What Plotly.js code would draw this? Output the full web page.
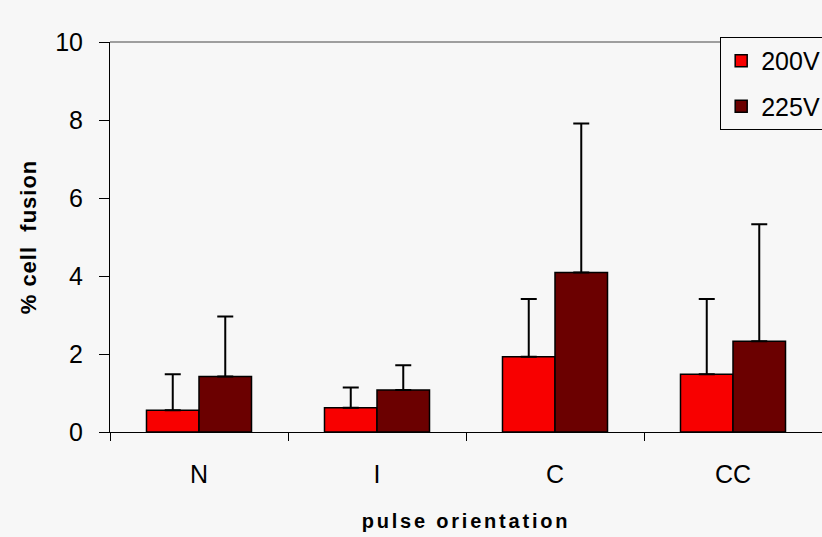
<!DOCTYPE html>
<html>
<head>
<meta charset="utf-8">
<script src="https://cdn.plot.ly/plotly-3.0.1.min.js"></script>
<style>
html,body{margin:0;padding:0;background:#f7f7f7;}
#chart{width:822px;height:537px;}
#chart .xtitle{letter-spacing:2.8px;}
#chart .ytitle{letter-spacing:1px;}
</style>
</head>
<body>
<div id="chart"></div>
<script>
const categories = ["N", "I", "C", "CC"];
const series200Name = "200V";
const series225Name = "225V";
const values200 = [0.56, 0.62, 1.93, 1.48];
const errors200 = [0.92, 0.52, 1.48, 1.93];
const values225 = [1.42, 1.08, 4.09, 2.33];
const errors225 = [1.54, 0.63, 3.82, 3.00];
const yTicks = [0, 2, 4, 6, 8, 10];

const errStyle = {thickness: 2, width: 8, color: "#000000"};

const traces = [
  {
    type: "bar", name: series200Name, x: categories, y: values200,
    legendgroup: "a",
    marker: {color: "#f80000", line: {color: "#000000", width: 1.5}},
    error_y: Object.assign({type: "data", array: errors200, symmetric: false, arrayminus: [0,0,0,0]}, errStyle)
  },
  {
    type: "bar", name: series225Name, x: categories, y: values225,
    legendgroup: "b",
    marker: {color: "#6b0000", line: {color: "#000000", width: 1.5}},
    error_y: Object.assign({type: "data", array: errors225, symmetric: false, arrayminus: [0,0,0,0]}, errStyle)
  }
];

const layout = {
  width: 822, height: 537,
  paper_bgcolor: "#f7f7f7", plot_bgcolor: "#f7f7f7",
  margin: {l: 110, r: 0, t: 42, b: 105, autoexpand: false},
  font: {family: "Liberation Sans, Arial, sans-serif", color: "#000000", size: 25},
  barmode: "group", bargap: 0.41, bargroupgap: 0,
  showlegend: true,
  legend: {
    x: 0.857, y: 1.013, xanchor: "left", yanchor: "top",
    bgcolor: "#f7f7f7", bordercolor: "#000000", borderwidth: 1,
    font: {size: 25}, traceorder: "grouped", tracegroupgap: 10
  },
  xaxis: {
    type: "category", automargin: false,
    showgrid: false, zeroline: false,
    showline: true, linecolor: "#000000", linewidth: 1,
    ticks: "outside", tickson: "boundaries", ticklen: 8, tickcolor: "#000000",
    ticklabelstandoff: 20,
    tickfont: {size: 25},
    title: {text: "<b>pulse orientation</b>", font: {size: 20}, standoff: 26}
  },
  yaxis: {
    range: [0, 10], tickvals: yTicks, automargin: false,
    showgrid: false, zeroline: false,
    showline: true, linecolor: "#000000", linewidth: 1,
    ticks: "outside", ticklen: 10, tickcolor: "#000000",
    ticklabelstandoff: 11,
    tickfont: {size: 25},
    title: {text: "<b>% cell  fusion</b>", font: {size: 22}, standoff: 12}
  },
  shapes: [
    {type: "line", xref: "paper", yref: "paper", x0: 0, x1: 1, y0: 1, y1: 1,
     line: {color: "#808080", width: 1.5}}
  ]
};

Plotly.newPlot("chart", traces, layout, {displayModeBar: false, staticPlot: true});
</script>
</body>
</html>
